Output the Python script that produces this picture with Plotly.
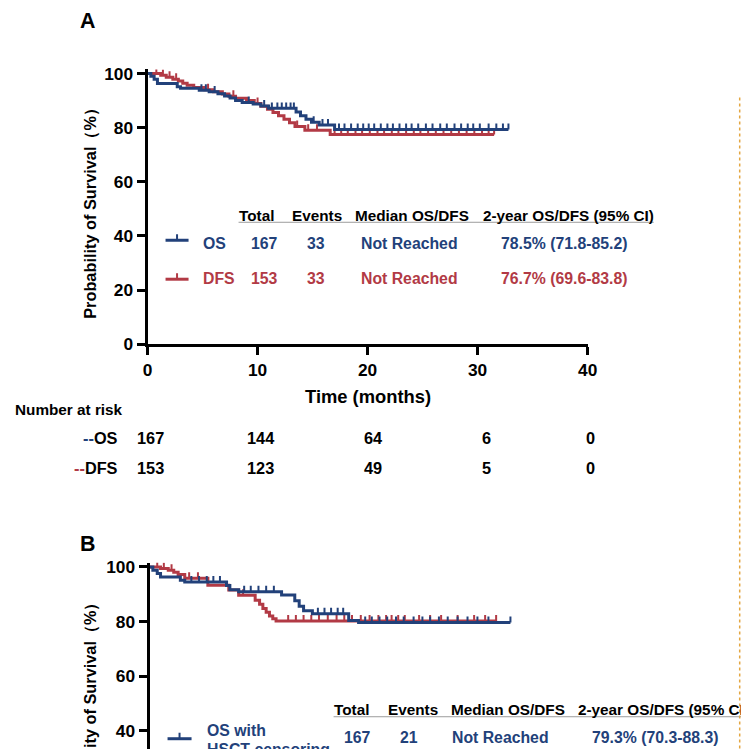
import numpy as np
import plotly.graph_objects as go

# the photographed page shows the figure at ~0.98 scale, shifted by ~12.5 px;
# positions below are pixels of the reference picture and are mapped back through this
SHOT_K, SHOT_OFF = 0.98, 12.5
W = H = 760
FONT = "Liberation Sans, Arial, sans-serif"
NAVY = "#22417a"
RED = "#b23a45"

# ---- panel A : OS / DFS (step times in months, survival in %) ----
os_a_t = [0, 0.3, 0.6, 0.9, 2.7, 3.0, 4.7, 5.6, 6.4, 7.0, 7.5, 8.0, 8.6, 9.6,
          10.3, 11.0, 13.5, 13.9, 14.4, 14.9, 15.6, 17.0, 32.8]
os_a_s = [100, 99.0, 97.9, 96.3, 95.1, 94.5, 93.8, 93.2, 92.5, 91.7, 90.9, 90.0,
          89.3, 88.7, 88.0, 87.1, 85.8, 84.4, 83.1, 82.0, 81.0, 79.3, 79.3]
os_a_cens = [4.9, 5.3, 6.1, 9.2, 10.6, 11.3, 11.8, 12.2, 12.6, 13.0, 13.3, 15.1,
             15.9, 16.4, 17.4, 17.9, 18.5, 19.1, 19.6, 20.1, 20.6, 21.2, 21.8,
             22.3, 22.9, 23.5, 24.0, 24.6, 25.3, 25.9, 26.6, 27.2, 27.9, 28.5,
             29.1, 29.6, 30.2, 31.0, 31.7, 32.3, 32.8]

dfs_a_t = [0, 1.2, 1.7, 2.3, 2.8, 3.2, 3.6, 4.2, 5.2, 6.0, 6.8, 7.4, 8.0, 9.0,
           9.7, 10.3, 10.9, 11.4, 11.9, 12.4, 12.9, 13.4, 14.3, 16.6, 31.5]
dfs_a_s = [100, 99.3, 98.6, 97.9, 97.2, 96.4, 95.6, 94.8, 94.0, 93.2, 92.4, 91.6,
           90.8, 90.0, 88.9, 87.9, 86.8, 85.6, 84.4, 83.1, 81.8, 80.4, 79.0,
           77.4, 77.4]
dfs_a_cens = [0.8, 1.4, 2.0, 2.6, 5.5, 7.8, 10.0, 13.6, 14.6, 15.4, 17.0, 17.6,
              18.2, 18.9, 19.5, 20.2, 20.9, 21.5, 22.2, 22.8, 23.5, 24.2, 24.8,
              25.5, 26.2, 26.9, 27.6, 28.3, 29.0, 29.7, 30.4, 31.0, 31.5]

# ---- panel B : with HSCT censoring ----
os_b_t = [0, 0.3, 0.7, 1.0, 2.8, 3.2, 7.0, 7.3, 8.1, 12.0, 13.2, 13.6, 14.0,
          14.8, 18.1, 19.0, 32.8]
os_b_s = [100, 98.8, 97.6, 96.3, 95.1, 94.5, 93.2, 91.6, 90.9, 89.7, 87.6, 85.6,
          83.9, 82.8, 80.4, 79.6, 79.6]
os_b_cens = [3.8, 4.5, 5.2, 5.8, 6.4, 8.6, 9.2, 9.9, 10.6, 11.3, 15.3, 15.9,
             16.5, 17.1, 17.6, 19.6, 20.2, 20.9, 21.6, 22.4, 23.1, 24.0, 24.8,
             25.5, 26.3, 27.1, 28.0, 28.9, 29.8, 30.8, 32.8]

dfs_b_t = [0, 1.0, 1.7, 2.2, 2.6, 3.2, 5.3, 7.2, 8.1, 9.6, 10.0, 10.3, 10.6,
           10.9, 11.2, 11.5, 31.5]
dfs_b_s = [100, 99.4, 98.8, 98.0, 97.2, 95.8, 93.3, 91.5, 89.6, 87.8, 86.3, 84.8,
           83.4, 82.0, 81.0, 80.2, 80.2]
dfs_b_cens = [0.7, 1.3, 2.0, 3.6, 4.4, 8.5, 12.6, 13.3, 14.0, 14.7, 15.4, 16.2,
              17.0, 17.7, 18.4, 19.2, 20.0, 20.8, 21.5, 22.0, 22.6, 23.2, 24.5,
              25.5, 26.5, 28.0, 29.5, 30.5, 31.5]

# ---- tables ----
headers = ["Total", "Events", "Median OS/DFS", "2-year OS/DFS (95% CI)"]
a_rows = {
    "OS": ["167", "33", "Not Reached", "78.5% (71.8-85.2)"],
    "DFS": ["153", "33", "Not Reached", "76.7% (69.6-83.8)"],
}
b_row = ["167", "21", "Not Reached", "79.3% (70.3-88.3)"]

risk_times = [0, 10, 20, 30, 40]
risk_os = [167, 144, 64, 6, 0]
risk_dfs = [153, 123, 49, 5, 0]


def surv_at(ts, ss, t):
    idx = np.searchsorted(ts, t, side="right") - 1
    return np.asarray(ss)[idx]


def km(ts, ss, cens, color, xa, ya):
    line = go.Scatter(x=ts, y=ss, mode="lines", line=dict(color=color, width=3, shape="hv"),
                      xaxis=xa, yaxis=ya, showlegend=False, hoverinfo="skip")
    ticks = go.Scatter(x=cens, y=surv_at(ts, ss, cens), mode="markers",
                       marker=dict(size=1, color="rgba(0,0,0,0)"),
                       error_y=dict(type="constant", value=2.2, valueminus=0, symmetric=False,
                                    width=0, thickness=2, color=color),
                       xaxis=xa, yaxis=ya, showlegend=False, hoverinfo="skip")
    return [line, ticks]


fig = go.Figure()
for tr in (km(dfs_a_t, dfs_a_s, dfs_a_cens, RED, "x", "y")
           + km(os_a_t, os_a_s, os_a_cens, NAVY, "x", "y")
           + km(dfs_b_t, dfs_b_s, dfs_b_cens, RED, "x2", "y2")
           + km(os_b_t, os_b_s, os_b_cens, NAVY, "x2", "y2")):
    fig.add_trace(tr)


def fpx(v):
    # reference pixel -> figure pixel
    return (v - SHOT_OFF) / SHOT_K


def px(x):
    return fpx(x) / W


def py(y):
    return 1 - fpx(y) / H


def fs(size):
    return size / SHOT_K


A_Y0, A_K = 343, 2.71      # reference pixel of 0%, pixels per %
B_Y100, B_K = 566, 2.733
b_lo = 100 - (749 - B_Y100) / B_K

tickfont = dict(family=FONT, size=fs(17), color="black", weight="bold")
ax_common = dict(showgrid=False, zeroline=False, showline=True, linewidth=3, linecolor="black",
                 ticks="outside", ticklen=8, tickwidth=3, tickcolor="black", tickfont=tickfont,
                 fixedrange=True)

fig.update_layout(
    width=W, height=H, margin=dict(l=0, r=0, t=0, b=0), autosize=False,
    paper_bgcolor="white", plot_bgcolor="white",
    xaxis=dict(ax_common, domain=[px(147), px(587)], range=[0, 40], tickvals=risk_times, anchor="y"),
    yaxis=dict(ax_common, domain=[py(A_Y0), py(A_Y0 - 101.5 * A_K)], range=[0, 101.5],
               tickvals=[0, 20, 40, 60, 80, 100], anchor="x"),
    xaxis2=dict(domain=[px(149), px(589)], range=[0, 40], visible=False, anchor="y2", fixedrange=True),
    yaxis2=dict(ax_common, domain=[py(749), py(B_Y100 - 1.5 * B_K)], range=[b_lo, 101.5],
                tickvals=[40, 60, 80, 100], anchor="x2"),
)

anns = []


def ann(text, x, y, size, color="black", xanchor="center", angle=0):
    anns.append(dict(text=text, x=px(x), y=py(y), xref="paper", yref="paper",
                     xanchor=xanchor, yanchor="middle", showarrow=False, textangle=angle,
                     font=dict(family=FONT, size=fs(size), color=color, weight="bold")))


ytitle = "Probability of Survival\uff08%\uff09"

# panel A
ann("A", 87, 20, 21)
ann(ytitle, 90, 208, 16, angle=-90)
ann("Time (months)", 367, 395, 18)
for h, cx in zip(headers, [256, 316, 411, 568]):
    ann(h, cx, 214, 15)
cols_a = [264, 315, 409, 563]
for (name, vals), ry, col in zip(a_rows.items(), [242, 277], [NAVY, RED]):
    ann(name, 200, ry, 15.5, col, xanchor="left")
    for v, cx in zip(vals, cols_a):
        ann(v, cx, ry, 15.5, col)

ann("Number at risk", 12.5, 408, 15, xanchor="left")
risk_cols = [150, 260, 372, 486, 590]
for lab, vals, ry, col in [("OS", risk_os, 437, NAVY), ("DFS", risk_dfs, 467, RED)]:
    ann("<span style='color:%s'>--</span>%s" % (col, lab), 119, ry, 16, xanchor="right")
    for v, cx in zip(vals, risk_cols):
        ann(str(v), cx, ry, 16)

# panel B
ann("B", 87, 543, 21)
ann(ytitle, 90, 703, 16, angle=-90)
for h, cx in zip(headers, [351, 412, 507, 663]):
    ann(h, cx, 709, 15)
ann("OS with", 204, 730, 15.5, NAVY, xanchor="left")
ann("HSCT censoring", 204, 749, 15.5, NAVY, xanchor="left")
for v, cx in zip(b_row, [357, 408, 500, 654]):
    ann(v, cx, 737, 15.5, NAVY)

fig.update_layout(annotations=anns)

# legend glyphs, header rules, page edge
shapes = []
for gx0, gx1, gy, col in [(165, 188, 239, NAVY), (165, 188, 278, RED), (167, 191, 738, NAVY)]:
    shapes.append(dict(type="line", xref="paper", yref="paper", x0=px(gx0), x1=px(gx1),
                       y0=py(gy), y1=py(gy), line=dict(color=col, width=3)))
    mid = (gx0 + gx1) / 2
    shapes.append(dict(type="line", xref="paper", yref="paper", x0=px(mid), x1=px(mid),
                       y0=py(gy), y1=py(gy - 6), line=dict(color=col, width=2)))
for x0, x1, y in [(238, 653, 221), (333, 749, 716)]:
    shapes.append(dict(type="line", xref="paper", yref="paper", x0=px(x0), x1=px(x1),
                       y0=py(y), y1=py(y), line=dict(color="#9c9c9c", width=1)))
shapes.append(dict(type="line", xref="paper", yref="paper", x0=px(739), x1=px(739),
                   y0=py(96), y1=py(749), line=dict(color="#e3a640", width=1.5, dash="dot")))
fig.update_layout(shapes=shapes)

fig.write_html("out.html")
